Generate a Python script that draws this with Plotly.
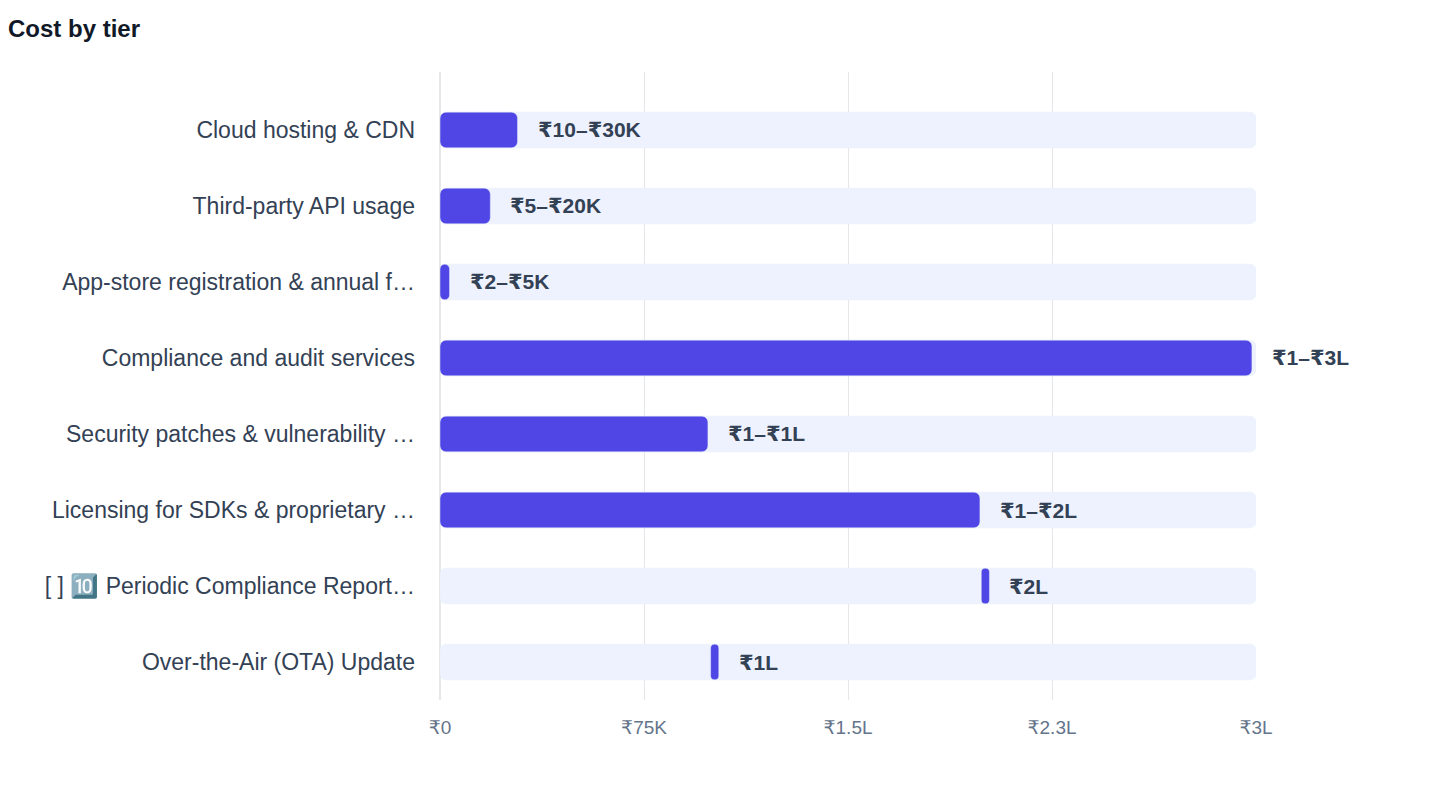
import plotly.graph_objects as go

# Cost tiers (values in rupees)
categories = [
    "Cloud hosting & CDN",
    "Third-party API usage",
    "App-store registration & annual f…",
    "Compliance and audit services",
    "Security patches & vulnerability …",
    "Licensing for SDKs & proprietary …",
    "[ ] 🔟 Periodic Compliance Report…",
    "Over-the-Air (OTA) Update",
]
low_values = [10, 5, 2, 1, 1, 1, 199000, 99500]
high_values = [28500, 18500, 3500, 298500, 98500, 198500, 202000, 102500]
labels = ["₹10–₹30K", "₹5–₹20K", "₹2–₹5K", "₹1–₹3L", "₹1–₹1L", "₹1–₹2L", "₹2L", "₹1L"]
track_max = 300000

tick_vals = [0, 75000, 150000, 225000, 300000]
tick_text = ["₹0", "₹75K", "₹1.5L", "₹2.3L", "₹3L"]

fig = go.Figure()

# background track
fig.add_trace(go.Bar(
    y=categories, x=[track_max] * len(categories), base=0, orientation="h",
    marker=dict(color="#EEF2FF"), width=0.47, hoverinfo="skip",
))

# cost range bars
fig.add_trace(go.Bar(
    y=categories,
    x=[h - l for h, l in zip(high_values, low_values)],
    base=low_values, orientation="h",
    marker=dict(color="#4F46E5"), width=0.47,
))

for cat, hi, lab in zip(categories, high_values, labels):
    fig.add_annotation(
        x=hi, y=cat, text="<b>" + lab + "</b>", showarrow=False,
        xanchor="left", xshift=18, font=dict(size=21, color="#334155"),
    )

fig.update_layout(
    width=1440, height=788,
    barmode="overlay", barcornerradius=6, showlegend=False,
    plot_bgcolor="white", paper_bgcolor="white",
    font=dict(family="Liberation Sans, DejaVu Sans, sans-serif"),
    title=dict(text="<b>Cost by tier</b>", x=0, xanchor="left", y=0.985,
               yanchor="top", font=dict(size=24, color="#111827")),
    margin=dict(l=432, r=192, t=64, b=96),
    xaxis=dict(range=[0, track_max], tickvals=tick_vals, ticktext=tick_text,
               showgrid=True, gridcolor="#E5E7EB", zeroline=True,
               zerolinecolor="#E5E7EB", tickfont=dict(size=19, color="#64748B"),
               ticks="", ticklabelstandoff=14),
    yaxis=dict(range=[7.5, -0.763], tickfont=dict(size=23, color="#334155"),
               ticklabelstandoff=24, showgrid=False),
)

fig.write_html("out.html")
